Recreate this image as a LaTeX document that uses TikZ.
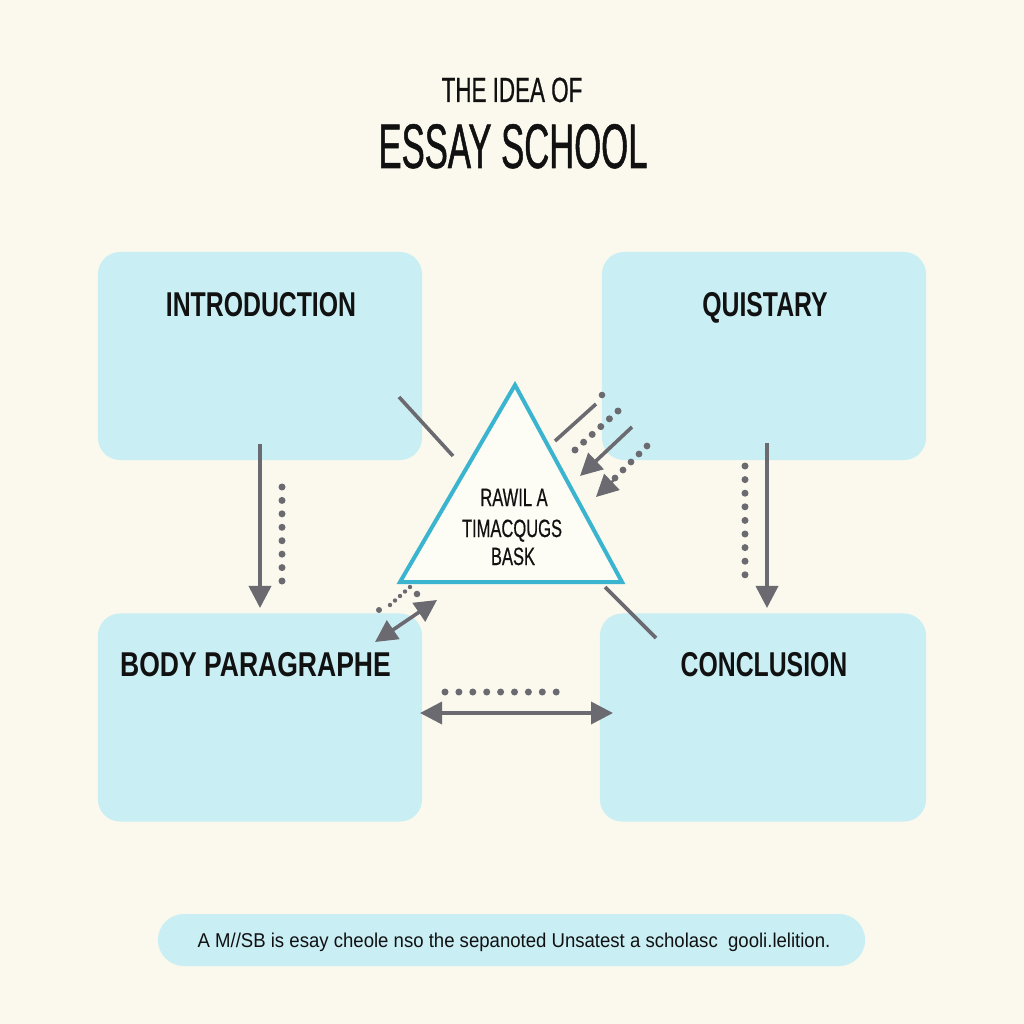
\documentclass[tikz,border=0pt]{standalone}
\usepackage{fontspec}
\setmainfont{Liberation Sans}
\newfontfamily\condtitle[FakeStretch=0.64,FakeBold=0.6]{Liberation Sans}
\newfontfamily\condbig[FakeStretch=0.55,FakeBold=0.8]{Liberation Sans}
\newfontfamily\condlabel[FakeStretch=0.72]{Liberation Sans}
\newfontfamily\condlabelw[FakeStretch=0.77]{Liberation Sans}
\newfontfamily\condtri[FakeStretch=0.66,FakeBold=0.5]{Liberation Sans}
\newfontfamily\condfoot[FakeStretch=0.93]{Liberation Sans}
\usetikzlibrary{arrows.meta}
\definecolor{bg}{RGB}{251,249,237}
\definecolor{boxblue}{RGB}{201,238,244}
\definecolor{tricyan}{RGB}{58,180,207}
\definecolor{trifill}{RGB}{253,253,245}
\definecolor{arrowgray}{RGB}{106,106,112}
\definecolor{ink}{RGB}{17,17,17}
\tikzset{
  box/.style={fill=boxblue, draw=none, rounded corners=0.55cm, minimum width=8.1cm, minimum height=5.2cm, inner sep=0pt},
  lbl/.style={anchor=base, inner sep=0pt, text=ink, font=\condlabel\bfseries\fontsize{24.5}{28}\selectfont},
  conn/.style={draw=arrowgray, line width=0.09cm},
  tip/.style={-{Triangle[length=0.55cm,width=0.55cm]}},
  dtip/.style={{Triangle[length=0.55cm,width=0.55cm]}-{Triangle[length=0.55cm,width=0.55cm]}},
  dot/.style={fill=arrowgray},
}
\begin{document}
\begin{tikzpicture}[x=0.025cm,y=-0.025cm]
\fill[bg] (0,0) rectangle (1024,1024);
\useasboundingbox (0,0) rectangle (1024,1024);
% title
\node[anchor=base, inner sep=0pt, text=ink, font=\condtitle\fontsize{24.9}{28}\selectfont] (t1) at (512,102) {THE IDEA OF};
\node[anchor=base, inner sep=0pt, text=ink, font=\condbig\fontsize{44.8}{50}\selectfont] (t2) at (513,168) {ESSAY SCHOOL};
% boxes
\node[box] (intro) at (260,356) {};
\node[box] (quist) at (764,356) {};
\node[box] (body) at (260,717.5) {};
\node[box, minimum width=8.15cm] (concl) at (763,717.5) {};
\node[lbl] (introL) at (261,316) {INTRODUCTION};
\node[lbl] (quistL) at (765,316) {QUISTARY};
\node[lbl, font=\condlabelw\bfseries\fontsize{24.5}{28}\selectfont] (bodyL) at (255.5,676) {BODY PARAGRAPHE};
\node[lbl] (conclL) at (764,676) {CONCLUSION};
% triangle
\coordinate (ta) at (515,385);
\coordinate (tl) at (400,582);
\coordinate (tr) at (622,582);
\draw[draw=tricyan, fill=trifill, line width=0.1cm, line join=miter] (ta) -- (tl) -- (tr) -- cycle;
\node[anchor=base, inner sep=0pt, text=ink, font=\condtri\fontsize{17.8}{21}\selectfont] (tri1) at (514,506) {RAWIL A};
\node[anchor=base, inner sep=0pt, text=ink, font=\condtri\fontsize{17.8}{21}\selectfont] (tri2) at (512,537) {TIMACQUGS};
\node[anchor=base, inner sep=0pt, text=ink, font=\condtri\fontsize{17.8}{21}\selectfont] (tri3) at (513,565) {BASK};
% plain lines
\coordinate (l1a) at (399,397); \coordinate (l1b) at (453,456);
\draw[conn] (l1a) -- (l1b);
\coordinate (l2a) at (605,587); \coordinate (l2b) at (656,638);
\draw[conn] (l2a) -- (l2b);
\coordinate (l3a) at (555,441); \coordinate (l3b) at (596,404);
\draw[conn] (l3a) -- (l3b);
\fill[dot] (602,395) circle (3.3);
% dotted line right
\foreach \i in {0,...,5} \fill[dot] ({575+\i*8.6},{450-\i*7.8}) circle (3.5);
% right arrows
\coordinate (a1s) at (632,427); \coordinate (a1e) at (580,476);
\draw[conn, tip] (a1s) -- (a1e);
\foreach \i in {0,...,4} \fill[dot] ({647-\i*8},{446+\i*8}) circle (3.4);
\coordinate (a2s) at (617,477); \coordinate (a2e) at (596,497);
\draw[conn, tip, line width=0.06cm] (a2s) -- (a2e);
% bottom-left small
\fill[dot] (379,610) circle (3); \fill[dot] (417,594) circle (3.3);
\foreach \i in {0,...,4} \fill[dot] ({410-\i*5},{587+\i*4.5}) circle (2.2);
\coordinate (a3s) at (437,600); \coordinate (a3e) at (375,642);
\draw[conn, dtip] (a3s) -- (a3e);
% vertical left
\coordinate (vls) at (260,444); \coordinate (vle) at (260,608);
\draw[conn, tip] (vls) -- (vle);
\foreach \i in {0,...,7} \fill[dot] (282,{487+\i*13.43}) circle (3.5);
% vertical right
\coordinate (vrs) at (767,443); \coordinate (vre) at (767,608);
\draw[conn, tip] (vrs) -- (vre);
\foreach \i in {0,...,8} \fill[dot] (745,{466+\i*13.6}) circle (3.5);
% horizontal
\coordinate (hs) at (420,713); \coordinate (he) at (613,713);
\draw[conn, dtip] (hs) -- (he);
\foreach \i in {0,...,8} \fill[dot] ({445+\i*13.9},692) circle (3.5);
% footer
\node[fill=boxblue, rounded corners=0.65cm, minimum width=17.675cm, minimum height=1.3cm, inner sep=0pt] (foot) at (511.5,940) {};
\node[anchor=base, inner sep=0pt, text=ink, font=\condfoot\fontsize{14.2}{17}\selectfont] (footT) at (514,947) {A M//SB is esay cheole nso the sepanoted Unsatest a scholasc\ \ gooli.lelition.};
\end{tikzpicture}
\end{document}
